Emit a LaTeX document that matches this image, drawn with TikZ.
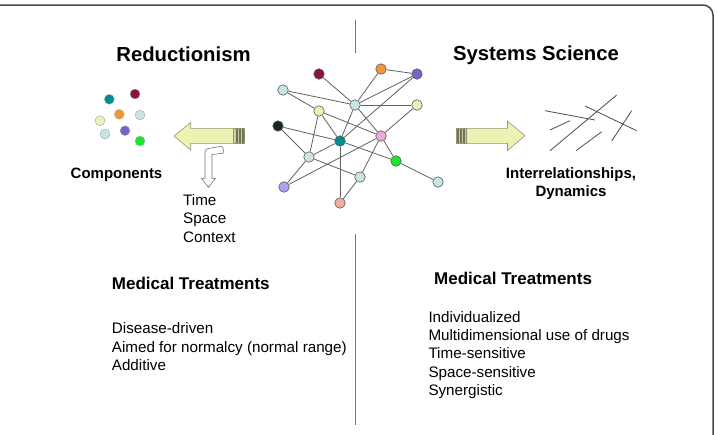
\documentclass[tikz,border=0pt]{standalone}
\usepackage{fontspec}
\setmainfont{Liberation Sans}
\pgfdeclarelayer{bg}
\pgfsetlayers{bg,main}
\definecolor{cmaroon}{RGB}{140,20,55}
\definecolor{corange}{RGB}{240,150,55}
\definecolor{cpurple}{RGB}{120,100,200}
\definecolor{clblue}{RGB}{200,228,228}
\definecolor{cyellow}{RGB}{236,240,185}
\definecolor{cblack}{RGB}{20,42,32}
\definecolor{cteal}{RGB}{0,140,145}
\definecolor{cpink}{RGB}{232,172,222}
\definecolor{cgreen}{RGB}{30,230,40}
\definecolor{clav}{RGB}{172,162,242}
\definecolor{csalmon}{RGB}{242,172,160}
\definecolor{afill}{RGB}{236,241,180}
\definecolor{aline}{RGB}{150,150,112}
\definecolor{sdark}{RGB}{112,112,86}
\definecolor{slight}{RGB}{205,205,165}
\definecolor{framec}{RGB}{70,70,70}
\begin{document}
\begin{tikzpicture}[x=1pt,y=-1pt,
  dot/.style={circle, draw=black!65, line width=0.6pt, minimum size=10.5pt, inner sep=0pt},
  sdot/.style={circle, minimum size=10pt, inner sep=0pt, draw=black!30, line width=0.3pt},
  link/.style={draw=black!62, line width=0.8pt},
  stroke/.style={draw=black!70, line width=0.8pt},
  bigarrow/.style={fill=afill, draw=aline, line width=0.6pt},
  hookarrow/.style={fill=white, draw=black!55, line width=0.6pt},
  divider/.style={draw=black!55, line width=1pt},
  title/.style={font=\fontsize{20.3}{24}\selectfont\bfseries, inner sep=0pt},
  head/.style={font=\fontsize{17}{20}\selectfont\bfseries, inner sep=0pt, anchor=west},
  lbl/.style={font=\fontsize{15}{18}\selectfont\bfseries, inner sep=0pt, align=center},
  txt/.style={font=\fontsize{15.2}{18.3}\selectfont, inner sep=0pt, align=left, anchor=west}
]
\useasboundingbox (0,0) rectangle (717,434);
% frame (top and right edges visible)
\draw[framec, line width=1.5pt, rounded corners=10pt] (0,5) -- (713,5) -- (713,440);

% dividers
\coordinate (d1a) at (355,20); \coordinate (d1b) at (355,53);
\coordinate (d2a) at (355,234); \coordinate (d2b) at (355,425);
\draw[divider] (d1a) -- (d1b);
\draw[divider] (d2a) -- (d2b);

% titles
\node[title] (tred) at (183.5,54) {Reductionism};
\node[title] (tsys) at (536,55) {Systems Science};

% network
\node[dot, fill=cmaroon] (n1) at (319,74) {};
\node[dot, fill=corange] (n2) at (381,69) {};
\node[dot, fill=cpurple] (n3) at (417,74) {};
\node[dot, fill=clblue] (n4) at (283,90) {};
\node[dot, fill=clblue] (n5) at (355,105) {};
\node[dot, fill=cyellow] (n6) at (417,105) {};
\node[dot, fill=cyellow] (n7) at (319,111) {};
\node[dot, fill=cblack] (n8) at (278,126) {};
\node[dot, fill=cteal] (n9) at (340,141) {};
\node[dot, fill=cpink] (n10) at (381,136) {};
\node[dot, fill=cgreen] (n11) at (396,161) {};
\node[dot, fill=clblue] (n12) at (309,157) {};
\node[dot, fill=clblue] (n13) at (360,177) {};
\node[dot, fill=clblue] (n14) at (438,182) {};
\node[dot, fill=clav] (n15) at (284,187) {};
\node[dot, fill=csalmon] (n16) at (340,203) {};
\begin{pgfonlayer}{bg}
\foreach \a/\b in {n1/n5,n2/n5,n2/n3,n3/n5,n3/n9,n4/n5,n4/n7,n5/n6,n5/n9,n5/n10,
  n7/n9,n7/n10,n7/n12,n8/n9,n8/n12,n9/n11,n9/n16,n9/n12,n6/n10,n10/n11,
  n10/n13,n10/n15,n12/n13,n12/n15,n13/n16,n11/n14}
  \draw[link] (\a) -- (\b);
\end{pgfonlayer}

% components
\node[sdot, fill=cteal] (c1) at (109.3,99.3) {};
\node[sdot, fill=cmaroon] (c2) at (135,94) {};
\node[sdot, fill=cyellow, draw=black!40] (c3) at (100,120.7) {};
\node[sdot, fill=corange] (c4) at (119.3,114.3) {};
\node[sdot, fill=clblue, draw=black!40] (c5) at (140,115) {};
\node[sdot, fill=clblue, draw=black!40] (c6) at (105,134) {};
\node[sdot, fill=cpurple] (c7) at (125,130.7) {};
\node[sdot, fill=cgreen] (c8) at (140,141) {};
\node[lbl] (comp) at (116.5,175) {Components};

% left arrow
\draw[bigarrow] (174,136) -- (190.7,122.5) -- (190.7,128.3) -- (233.3,128.3) -- (233.3,143.3) -- (190.7,143.3) -- (190.7,150) -- cycle;
\fill[slight] (233.3,128.3) rectangle (244,143.3);
\fill[sdark] (235.7,128.3) rectangle (237.7,143.3);
\fill[sdark] (239,128.3) rectangle (240.7,143.3);
\fill[sdark] (241.7,128.3) rectangle (244,143.3);
\draw[aline, line width=0.6pt] (233.3,128.3) rectangle (244,143.3);

% hook arrow
\draw[hookarrow] (205,178.3) [rounded corners=3pt]-- (205,149) -- (223.3,146) [sharp corners]-- (223.3,153.3) -- (212,154.5) -- (212,178.3) -- (215.5,178.3) -- (208.5,187.3) -- (201.5,178.3) -- cycle;
\node[txt] (tsc) at (183,218.5) {Time\\Space\\Context};

% right arrow
\draw[bigarrow] (525,135.7) -- (507.5,121) -- (507.5,128.3) -- (466.7,128.3) -- (466.7,143.3) -- (507.5,143.3) -- (507.5,150.5) -- cycle;
\fill[slight] (456.5,128.3) rectangle (466.7,143.3);
\fill[sdark] (456.5,128.3) rectangle (459,143.3);
\fill[sdark] (460,128.3) rectangle (461.7,143.3);
\fill[sdark] (463,128.3) rectangle (465,143.3);
\draw[aline, line width=0.6pt] (456.5,128.3) rectangle (466.7,143.3);

% interrelationship strokes
\draw[stroke] (545,110.7) -- (595,120);
\draw[stroke] (550,130) -- (570,120.7);
\draw[stroke] (550,150.7) -- (616.7,95);
\draw[stroke] (576,150.7) -- (601.7,131.7);
\draw[stroke] (585,106) -- (636.7,130.7);
\draw[stroke] (611.7,141) -- (631.7,110.7);
\node[lbl] (inter) at (571,184) {Interrelationships,\\Dynamics};

% medical treatments
\node[head] (mtl) at (111.7,283) {Medical Treatments};
\node[txt] (lstl) at (111.7,346.7) {Disease-driven\\Aimed for normalcy (normal range)\\Additive};
\node[head] (mtr) at (434,278.3) {Medical Treatments};
\node[txt] (lstr) at (428.3,355) {Individualized\\Multidimensional use of drugs\\Time-sensitive\\Space-sensitive\\Synergistic};
\end{tikzpicture}
\end{document}
